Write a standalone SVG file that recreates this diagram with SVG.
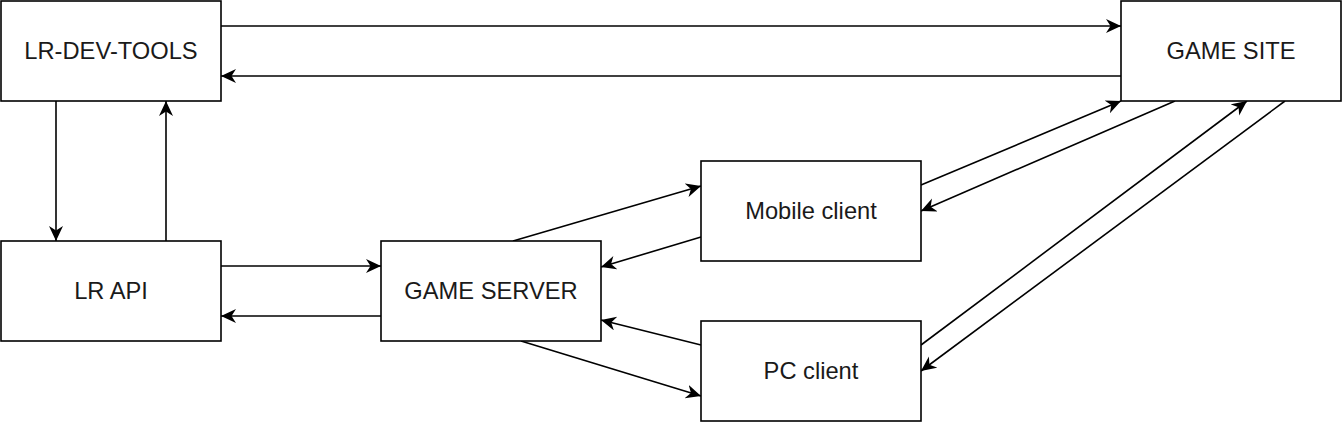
<svg xmlns="http://www.w3.org/2000/svg" width="1342" height="422" viewBox="0 0 1342 422">
<style>
.box{fill:#fff;stroke:#000;stroke-width:1.6}
.lbl{font-family:"Liberation Sans",Arial,sans-serif;font-size:23.7px;fill:#1a1a1a;text-anchor:middle;dominant-baseline:central}
.edge{fill:none;stroke:#000;stroke-width:1.6;marker-end:url(#arr)}
</style>
<defs>
<marker id="arr" markerUnits="userSpaceOnUse" markerWidth="18" markerHeight="16" refX="15" refY="7" orient="auto" viewBox="0 0 18 16">
<path d="M0,0 L15,7 L0,14 L4.5,7 Z" fill="#000"/>
</marker>
</defs>
<rect width="1342" height="422" fill="#fff"/>
<g id="connectors">
<path class="edge" d="M221,26 L1121,26"/>
<path class="edge" d="M1121,76 L221,76"/>
<path class="edge" d="M56,101 L56,241"/>
<path class="edge" d="M166,241 L166,101"/>
<path class="edge" d="M221,266 L381,266"/>
<path class="edge" d="M381,316 L221,316"/>
<path class="edge" d="M513,241 L701,186"/>
<path class="edge" d="M701,237 L601,267"/>
<path class="edge" d="M701,345 L601,320"/>
<path class="edge" d="M521,341 L701,396"/>
<path class="edge" d="M921,185 L1121,101"/>
<path class="edge" d="M1175,101 L921,211"/>
<path class="edge" d="M921,345 L1247,101"/>
<path class="edge" d="M1285,101 L921,371"/>
</g>
<g id="lr-dev-tools"><rect class="box" x="1" y="1" width="220" height="100"/><text class="lbl" x="111" y="51">LR-DEV-TOOLS</text></g>
<g id="game-site"><rect class="box" x="1121" y="1" width="220" height="100"/><text class="lbl" x="1231" y="51">GAME SITE</text></g>
<g id="lr-api"><rect class="box" x="1" y="241" width="220" height="100"/><text class="lbl" x="111" y="291">LR API</text></g>
<g id="game-server"><rect class="box" x="381" y="241" width="220" height="100"/><text class="lbl" x="491" y="291">GAME SERVER</text></g>
<g id="mobile-client"><rect class="box" x="701" y="161" width="220" height="100"/><text class="lbl" x="811" y="211">Mobile client</text></g>
<g id="pc-client"><rect class="box" x="701" y="321" width="220" height="100"/><text class="lbl" x="811" y="371">PC client</text></g>
</svg>
